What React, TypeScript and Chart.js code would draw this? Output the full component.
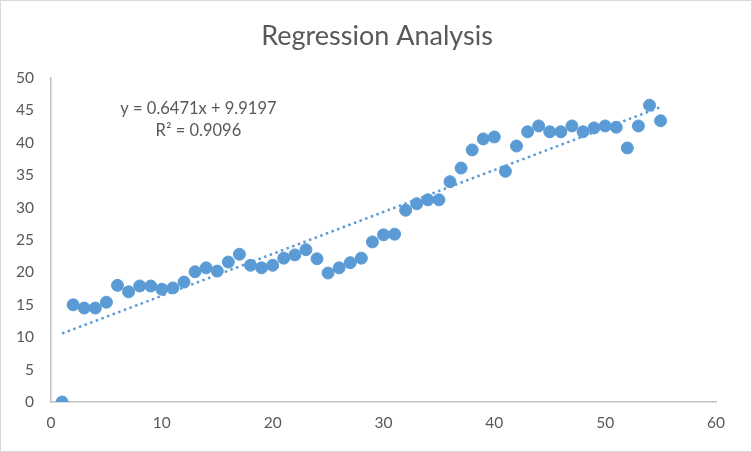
import { useEffect, useRef } from "react";
import { Chart, registerables } from "chart.js";

Chart.register(...registerables);

const xValues = [
  1, 2, 3, 4, 5, 6, 7, 8, 9, 10, 11, 12, 13, 14, 15, 16, 17, 18, 19, 20, 21, 22, 23, 24, 25, 26, 27, 28,
  29, 30, 31, 32, 33, 34, 35, 36, 37, 38, 39, 40, 41, 42, 43, 44, 45, 46, 47, 48, 49, 50, 51, 52, 53, 54, 55,
];
const yValues = [
  0, 15.0, 14.5, 14.5, 15.4, 18.0, 17.0, 17.9, 17.9, 17.4, 17.6, 18.5, 20.1, 20.7, 20.2, 21.6, 22.8, 21.1,
  20.7, 21.1, 22.2, 22.7, 23.5, 22.1, 19.9, 20.7, 21.5, 22.2, 24.7, 25.8, 25.9, 29.6, 30.6, 31.2, 31.2, 34.0,
  36.1, 38.9, 40.6, 40.9, 35.6, 39.5, 41.7, 42.6, 41.7, 41.7, 42.6, 41.7, 42.3, 42.6, 42.4, 39.2, 42.6, 45.8,
  43.4,
];
const slope = 0.6471;
const intercept = 9.9197;
const rSquared = 0.9096;
const chartTitle = "Regression Analysis";

const FONT = "Lato, 'Open Sans', sans-serif";
const TEXT = "#595959";
const BLUE = "#5b9bd5";

export default function App() {
  const chartRef = useRef<HTMLCanvasElement>(null);
  const chartInstance = useRef<Chart | null>(null);

  useEffect(() => {
    document.body.style.margin = "0";
    if (!chartRef.current) return;
    if (chartInstance.current) chartInstance.current.destroy();

    const points = xValues.map((x, i) => ({ x, y: yValues[i] }));
    const xMin = xValues[0];
    const xMax = xValues[xValues.length - 1];
    const trend = [
      { x: xMin, y: slope * xMin + intercept },
      { x: xMax, y: slope * xMax + intercept },
    ];

    // title, equation label and outer frame
    const decor = {
      id: "decor",
      afterDraw(chart: Chart) {
        const ctx = chart.ctx;
        const xs = chart.scales.x;
        const ys = chart.scales.y;
        ctx.save();
        ctx.strokeStyle = "#d9d9d9";
        ctx.lineWidth = 1;
        ctx.strokeRect(0.5, 0.5, chart.width - 1, chart.height - 1);
        ctx.fillStyle = TEXT;
        ctx.textAlign = "center";
        ctx.textBaseline = "middle";
        ctx.font = `27px ${FONT}`;
        ctx.fillText(chartTitle, chart.width / 2 + 1, 36);
        ctx.font = `16.5px ${FONT}`;
        const lx = xs.getPixelForValue(13.3);
        ctx.fillText(`y = ${slope}x + ${intercept}`, lx, ys.getPixelForValue(45.2));
        ctx.fillText(`R² = ${rSquared}`, lx, ys.getPixelForValue(41.8));
        ctx.restore();
      },
    };

    chartInstance.current = new Chart(chartRef.current, {
      type: "scatter",
      data: {
        datasets: [
          {
            type: "line",
            data: trend,
            borderColor: BLUE,
            borderWidth: 2.5,
            borderDash: [2.5, 3.5],
            pointRadius: 0,
            fill: false,
          },
          {
            data: points,
            backgroundColor: BLUE,
            borderColor: BLUE,
            pointRadius: 6,
            pointHoverRadius: 6,
          },
        ],
      },
      options: {
        animation: false,
        responsive: true,
        maintainAspectRatio: false,
        layout: { padding: { top: 78, right: 36, left: 0, bottom: 0 } },
        plugins: {
          legend: { display: false },
          tooltip: { enabled: false },
          title: { display: false },
        },
        scales: {
          x: {
            type: "linear",
            min: 0,
            max: 60,
            afterFit: (s: any) => {
              s.height = 50;
            },
            grid: { display: false, drawTicks: false },
            border: { display: true, color: "#bfbfbf", width: 1.5 },
            ticks: { stepSize: 10, color: TEXT, font: { family: FONT, size: 15.5 }, padding: 12 },
          },
          y: {
            min: 0,
            max: 50,
            afterFit: (s: any) => {
              s.width = 51;
            },
            grid: { display: false, drawTicks: false },
            border: { display: true, color: "#bfbfbf", width: 1.5 },
            ticks: { stepSize: 5, color: TEXT, font: { family: FONT, size: 15.5 }, padding: 17 },
          },
        },
      },
      plugins: [decor],
    });

    return () => {
      if (chartInstance.current) {
        chartInstance.current.destroy();
        chartInstance.current = null;
      }
    };
  }, []);

  return (
    <div style={{ width: 752, height: 452, position: "relative", background: "#fff" }}>
      <canvas ref={chartRef}></canvas>
    </div>
  );
}
